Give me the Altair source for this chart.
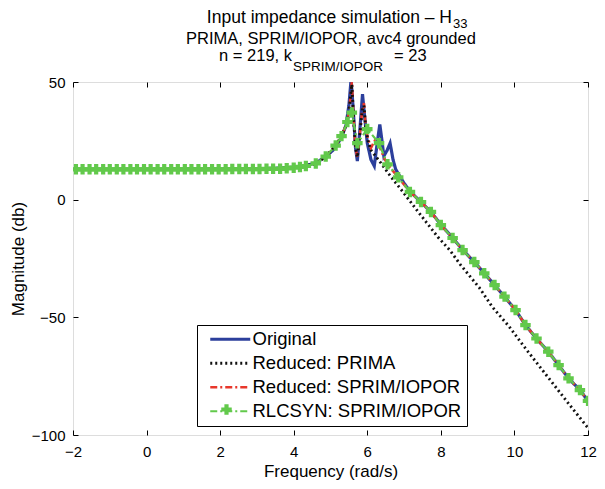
import altair as alt
import pandas as pd

FONT = "Liberation Sans"

series_names = ["Original", "Reduced: PRIMA", "Reduced: SPRIM/IOPOR", "RLCSYN: SPRIM/IOPOR"]
series_colors = ["#2c3f9c", "#111111", "#e8372b", "#62c94b"]
series_dashes = [[1, 0], [2, 3], [7, 3, 2, 3], [7, 3, 2, 3]]
series_widths = [3.2, 2.2, 3.2, 2.6]

orig_x = [-2.0, 0.0, 2.0, 3.0, 3.6, 4.0, 4.3, 4.6, 4.87, 5.1, 5.3, 5.42, 5.5, 5.56, 5.62, 5.68, 5.73,
          5.8, 5.87, 5.93, 6.0, 6.1, 6.19, 6.27, 6.34, 6.4, 6.45, 6.54, 6.62, 6.7, 6.77, 6.86, 7.0,
          7.16, 7.46, 7.73, 8.0, 8.32, 8.59, 8.91, 9.18, 9.46, 9.73, 10.03, 10.3, 10.6, 10.92, 11.2,
          11.47, 11.78, 12.0]
orig_y = [12.9, 12.9, 13.0, 13.1, 13.4, 13.8, 14.4, 15.6, 18.2, 21.5, 26.5, 31.5, 40.0, 51.0, 38.0,
          22.0, 16.4, 30.0, 44.8, 35.0, 24.0, 17.0, 14.3, 24.0, 32.0, 25.0, 18.5, 21.0, 24.0, 17.0,
          13.0, 10.5, 7.0, 3.5, -1.0, -5.2, -10.6, -16.2, -21.3, -26.5, -31.3, -36.3, -41.2, -46.9,
          -53.3, -59.0, -64.6, -70.3, -75.9, -80.9, -85.5]

prima_x = [-2.0, 0.0, 2.0, 3.0, 3.6, 4.0, 4.33, 4.6, 4.87, 5.14, 5.3, 5.46, 5.52, 5.58, 5.63, 5.68,
           5.73, 5.8, 5.86, 5.91, 5.96, 6.02, 6.1, 6.2, 6.35, 6.65, 6.97, 7.3, 7.6, 7.92, 8.24, 8.54,
           9.05, 9.4, 9.86, 10.27, 11.0, 11.5, 12.0]
prima_y = [12.9, 12.9, 13.0, 13.1, 13.3, 13.6, 14.3, 15.4, 18.3, 23.0, 27.0, 33.0, 40.0, 49.0, 34.0,
           22.0, 18.0, 28.0, 38.0, 40.0, 30.0, 25.0, 21.0, 19.0, 16.0, 9.6, 3.3, -3.5, -9.5, -15.9,
           -21.4, -27.8, -37.5, -45.6, -54.0, -62.6, -77.2, -87.2, -97.0]

sprim_x = [-2.0, 0.0, 2.0, 3.0, 3.6, 4.0, 4.33, 4.6, 4.87, 5.14, 5.3, 5.46, 5.52, 5.58, 5.63, 5.68,
           5.73, 5.8, 5.86, 5.91, 5.96, 6.02, 6.1, 6.2, 6.32, 6.45, 6.55, 6.84, 7.16, 7.46, 7.73, 8.0,
           8.32, 8.59, 8.91, 9.18, 9.46, 9.73, 10.03, 10.3, 10.6, 10.92, 11.2, 11.47, 11.78, 12.0]
sprim_y = [12.9, 12.9, 13.0, 13.1, 13.3, 13.6, 14.3, 15.4, 18.3, 23.0, 27.0, 33.0, 40.0, 50.0, 34.0,
           22.0, 18.0, 28.0, 38.0, 41.0, 30.0, 26.0, 22.0, 25.0, 23.0, 18.0, 15.0, 9.5, 3.3, -1.0,
           -5.2, -10.8, -16.3, -21.4, -26.5, -31.3, -36.3, -41.2, -46.9, -53.3, -59.0, -64.6, -70.3,
           -75.9, -80.9, -85.5]

rlc_x = [-1.92, -1.74, -1.55, -1.37, -1.18, -1.0, -0.81, -0.63, -0.44, -0.26, -0.07, 0.11, 0.3, 0.48,
         0.67, 0.85, 1.04, 1.22, 1.41, 1.59, 1.78, 1.96, 2.15, 2.33, 2.52, 2.7, 2.89, 3.07, 3.26, 3.44,
         3.63, 3.81, 4.0, 4.17, 4.33, 4.6, 4.87, 5.14, 5.3, 5.46, 5.58, 5.73, 6.0, 6.32, 6.55, 6.84,
         7.16, 7.46, 7.73, 8.0, 8.32, 8.59, 8.91, 9.18, 9.46, 9.73, 10.03, 10.3, 10.6, 10.92, 11.2,
         11.47, 11.78, 12.0]
rlc_y = [12.9, 12.9, 12.9, 12.9, 12.9, 12.9, 12.9, 12.9, 12.9, 12.9, 12.9, 12.9, 12.9, 12.9,
         12.9, 12.9, 12.9, 12.9, 12.9, 12.9, 12.9, 12.9, 12.9, 13.0, 13.0, 13.0, 13.0, 13.0, 13.1, 13.1,
         13.1, 13.3, 13.6, 13.9, 14.3, 15.4, 18.3, 23.0, 27.0, 33.0, 37.0, 24.0, 30.0, 24.0, 15.0, 9.5,
         3.3, -1.0, -5.2, -10.8, -16.3, -21.4, -26.5, -31.3, -36.3, -41.2, -46.9, -53.3, -59.0, -64.6,
         -70.3, -75.9, -80.9, -85.5]

x_ticks = [-2, 0, 2, 4, 6, 8, 10, 12]
y_ticks = [-100, -50, 0, 50]

title_line1 = "Input impedance simulation \u2013 H"
title_line1_sub = "33"
title_line2 = "PRIMA,   SPRIM/IOPOR, avc4 grounded"
title_line3 = "n = 219, k"
title_line3_sub = "SPRIM/IOPOR"
title_line3_end = "= 23"

frames = []
for name, xs, ys in [(series_names[0], orig_x, orig_y), (series_names[1], prima_x, prima_y),
                     (series_names[2], sprim_x, sprim_y), (series_names[3], rlc_x, rlc_y)]:
    frames.append(pd.DataFrame({"x": xs, "y": ys, "series": name}))
df = pd.concat(frames, ignore_index=True)

xscale = alt.Scale(domain=[-2, 12], nice=False, zero=False)
yscale = alt.Scale(domain=[-100, 50], nice=False, zero=False)

legend = alt.Legend(title=None, orient="none", legendX=124, legendY=243,
                    symbolType="M-4,0H4", symbolSize=100, symbolOffset=19,
                    labelFont=FONT, labelFontSize=18.5, labelColor="black",
                    strokeColor="black", fillColor="white", padding=5, rowPadding=5,
                    labelOffset=13, labelLimit=400)

marker_legend = alt.Legend(title=None, orient="none", legendX=148, legendY=322,
                           symbolSize=110, symbolFillColor=series_colors[3],
                           symbolStrokeColor=series_colors[3], symbolStrokeWidth=0,
                           symbolOpacity=1, labelExpr="''", labelFontSize=1, labelOffset=0,
                           padding=0, strokeColor="transparent", fillColor="transparent")

minus = "replace(datum.label, '-', '\u2212')"

bottom_axis = alt.Axis(values=x_ticks, orient="bottom", offset=-5, tickSize=5, domain=False,
                       labelPadding=9, grid=False, labelExpr=minus, labelFlush=False, labelFont=FONT,
                       labelFontSize=15, labelColor="black", tickColor="black",
                       title="Frequency (rad/s)", titleFont=FONT, titleFontSize=17,
                       titleFontWeight="normal", titleColor="black", titlePadding=4)
left_axis = alt.Axis(values=y_ticks, orient="left", offset=-5, tickSize=5, domain=False,
                     labelPadding=8, grid=False, labelExpr=minus, labelFlush=False, labelFont=FONT,
                     labelFontSize=15, labelColor="black", tickColor="black",
                     title="Magnitude (db)", titleFont=FONT, titleFontSize=17,
                     titleFontWeight="normal", titleColor="black", titlePadding=4)
top_axis = alt.Axis(values=x_ticks, orient="top", offset=-5, tickSize=5, domain=False,
                    labels=False, title=None, grid=False, tickColor="black")
right_axis = alt.Axis(values=y_ticks, orient="right", offset=-5, tickSize=5, domain=False,
                      labels=False, title=None, grid=False, tickColor="black")


def enc(chart, xaxis=None, yaxis=None):
    return chart.encode(
        x=alt.X("x:Q", scale=xscale, axis=xaxis),
        y=alt.Y("y:Q", scale=yscale, axis=yaxis),
    )


styled = dict(
    color=alt.Color("series:N", scale=alt.Scale(domain=series_names, range=series_colors), legend=legend),
    strokeDash=alt.StrokeDash("series:N", scale=alt.Scale(domain=series_names, range=series_dashes), legend=legend),
    strokeWidth=alt.StrokeWidth("series:N", scale=alt.Scale(domain=series_names, range=series_widths), legend=legend),
)

base = alt.Chart(df)

def line_layer(name, xaxis=None, yaxis=None):
    return enc(base.mark_line(clip=True), xaxis, yaxis).encode(**styled).transform_filter(
        alt.datum.series == name)

l_orig = line_layer(series_names[0], bottom_axis, left_axis)
l_sprim = line_layer(series_names[2])
l_prima = line_layer(series_names[1])
l_rlc = line_layer(series_names[3])
p_rlc = enc(base.mark_point(filled=True, size=110, opacity=1, color=series_colors[3], clip=True),
            top_axis, right_axis).encode(
    shape=alt.Shape("series:N", scale=alt.Scale(domain=[series_names[3]], range=["cross"]),
                    legend=marker_legend)
).transform_filter(alt.datum.series == series_names[3])


def text_layer(txt, px, py, size, align):
    return alt.Chart(pd.DataFrame({"t": [txt]})).mark_text(
        font=FONT, fontSize=size, align=align, baseline="alphabetic", color="black"
    ).encode(x=alt.value(px), y=alt.value(py), text="t:N")


titles = [
    text_layer(title_line1, 379, -59, 17.5, "right"),
    text_layer(title_line1_sub, 380, -54, 13, "left"),
    text_layer(title_line2, 258, -38, 16.5, "center"),
    text_layer(title_line3, 219, -21, 16.5, "right"),
    text_layer(title_line3_sub, 220, -11, 13.5, "left"),
    text_layer(title_line3_end, 321, -21, 16.5, "left"),
]

chart = alt.layer(l_orig, l_sprim, l_prima, l_rlc, p_rlc, *titles).resolve_axis(
    x="independent", y="independent"
).properties(
    width=515, height=353,
    autosize=alt.AutoSizeParams(type="none"),
    padding={"left": 65, "top": 74, "right": 9, "bottom": 46},
).configure_view(stroke="black", strokeWidth=1.5).configure(background="white")

chart.save("out.html", embed_options={"renderer": "svg", "actions": False})
